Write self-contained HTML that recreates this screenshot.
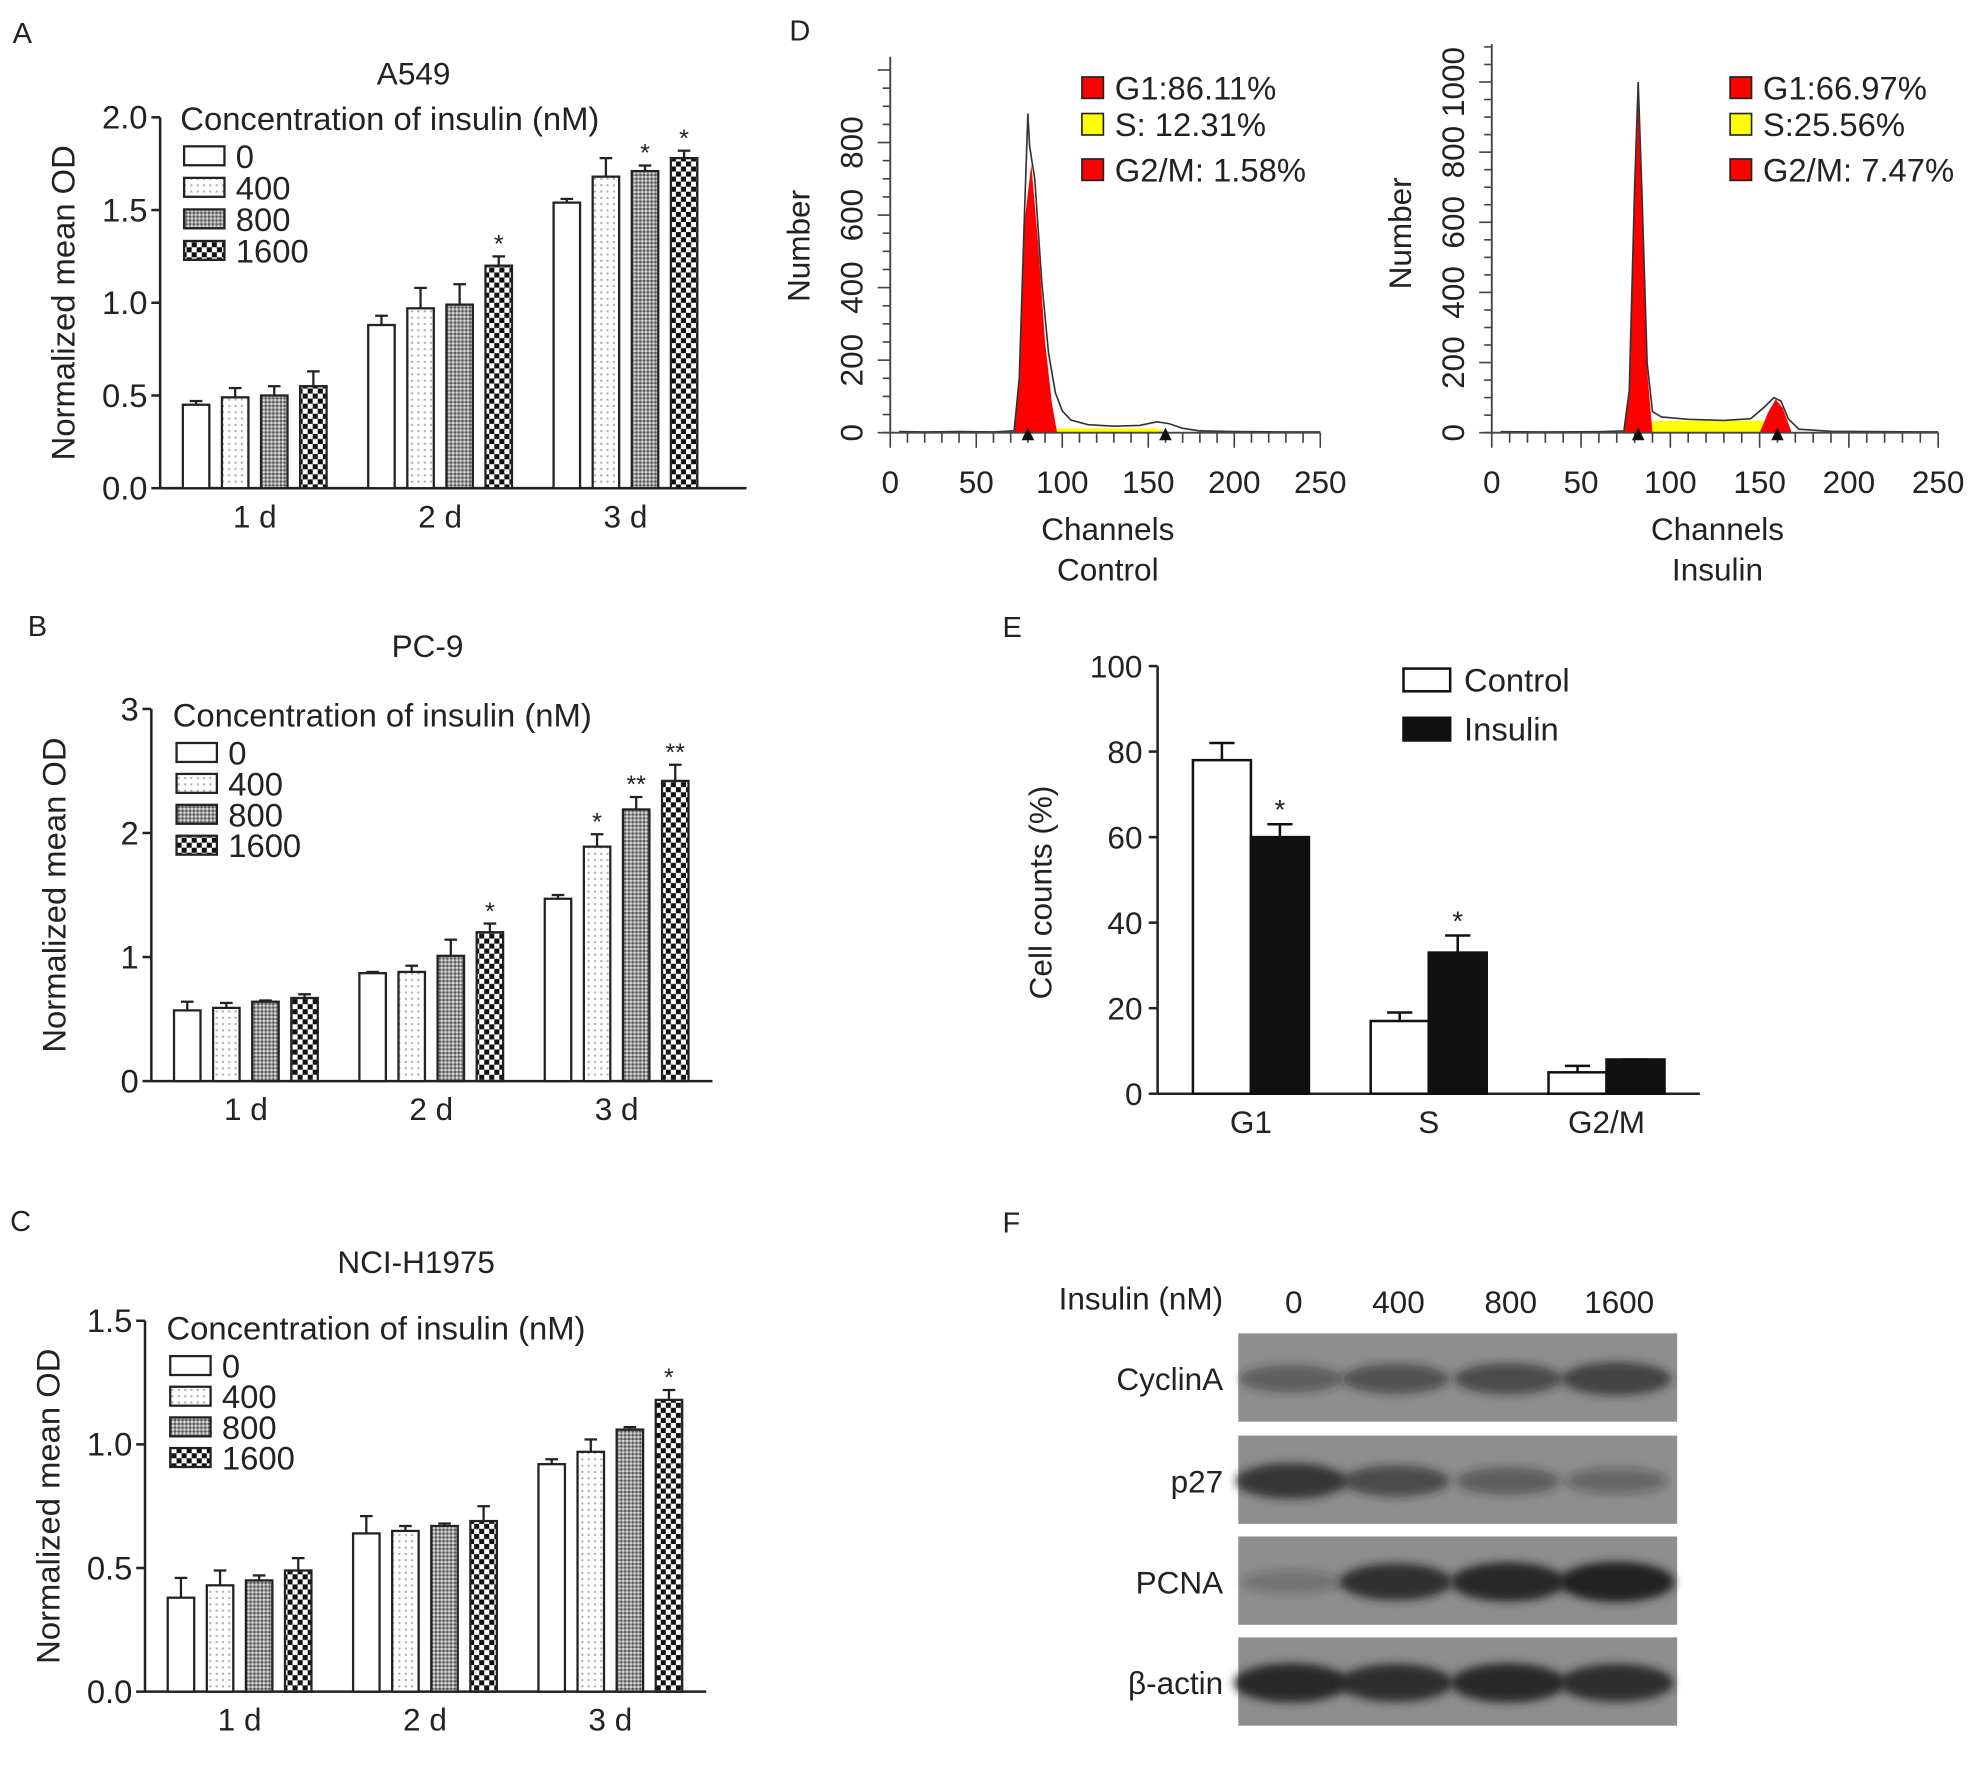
<!DOCTYPE html>
<html><head><meta charset="utf-8"><style>
html,body{margin:0;padding:0;background:#fff}
svg{display:block}
text{font-family:"Liberation Sans",Arial,sans-serif;fill:#222}
</style></head><body>
<svg id="fig" width="1976" height="1785" viewBox="0 0 1567 1415" preserveAspectRatio="none" xmlns="http://www.w3.org/2000/svg">
<defs>
<pattern id="pDot" width="5" height="5" patternUnits="userSpaceOnUse"><rect width="5" height="5" fill="#fff"/><rect x="1" y="1" width="1.6" height="1.6" fill="#aaa"/></pattern>
<pattern id="pGray" width="3" height="3" patternUnits="userSpaceOnUse"><rect width="3" height="3" fill="#999"/><rect width="1.5" height="1.5" fill="#555"/><rect x="1.5" y="1.5" width="1.5" height="1.5" fill="#ddd"/></pattern>
<pattern id="pCheck" width="8" height="8" patternUnits="userSpaceOnUse"><rect width="8" height="8" fill="#fff"/><rect width="4" height="4" fill="#111"/><rect x="4" y="4" width="4" height="4" fill="#111"/></pattern>
<filter id="blur" x="-30%" y="-80%" width="160%" height="260%"><feGaussianBlur stdDeviation="3.5"/></filter>
</defs>
<g id="root"></g>
</svg>
<script>
// ---- Data: panels A-C (normalized mean OD) ----
const dayLabels = ['1 d','2 d','3 d'];
const concLabels = ['0','400','800','1600'];
const a549Values = [[0.45,0.49,0.50,0.55],[0.88,0.97,0.99,1.20],[1.54,1.68,1.71,1.78]];
const a549Errors = [[0.02,0.05,0.05,0.08],[0.05,0.11,0.11,0.05],[0.02,0.10,0.03,0.04]];
const a549Stars = [['','','',''],['','','','*'],['','','*','*']];
const a549Ticks = [0,0.5,1.0,1.5,2.0];
const pc9Values = [[0.57,0.59,0.64,0.67],[0.87,0.88,1.01,1.20],[1.47,1.89,2.19,2.42]];
const pc9Errors = [[0.07,0.04,0.01,0.03],[0.01,0.05,0.13,0.07],[0.03,0.10,0.10,0.13]];
const pc9Stars = [['','','',''],['','','','*'],['','*','**','**']];
const pc9Ticks = [0,1,2,3];
const h1975Values = [[0.38,0.43,0.45,0.49],[0.64,0.65,0.67,0.69],[0.92,0.97,1.06,1.18]];
const h1975Errors = [[0.08,0.06,0.02,0.05],[0.07,0.02,0.01,0.06],[0.02,0.05,0.01,0.04]];
const h1975Stars = [['','','',''],['','','',''],['','','','*']];
const h1975Ticks = [0,0.5,1.0,1.5];
// ---- Data: panel E ----
const phaseLabels = ['G1','S','G2/M'];
const controlValues = [78,17,5];
const controlErrors = [4,2,1.5];
const insulinValues = [60,33,8];
const insulinErrors = [3,4,0];
const eTicks = [0,20,40,60,80,100];
// ---- Data: panel D histograms [channel, count] ----
const controlHist = [[5,3],[20,2],[40,3],[60,2],[72,5],[75,150],[78,600],[80,880],[81,790],[84,700],[88,420],[92,220],[96,110],[100,60],[105,35],[115,22],[130,18],[145,20],[155,30],[162,25],[170,12],[180,5],[200,3],[230,2],[250,2]];
const controlG1 = [[72,0],[75,150],[78,580],[82,740],[86,520],[90,250],[94,80],[97,0]];
const insulinHist = [[5,3],[30,2],[60,3],[74,5],[77,120],[80,700],[82,1000],[84,700],[87,200],[90,60],[95,45],[110,38],[130,35],[145,40],[152,70],[158,100],[162,90],[166,40],[172,10],[190,4],[250,2]];
const insulinG1 = [[74,0],[77,110],[80,650],[82,960],[84,650],[87,180],[90,0]];
const insulinG2 = [[150,0],[155,60],[159,95],[163,70],[168,0]];
const dTicksX = [0,50,100,150,200,250];
// ---- Data: panel F band intensity (0-1) ----
const blotRows = ['CyclinA','p27','PCNA','β-actin'];
const bandIntensity = [[0.45,0.55,0.6,0.7],[0.8,0.6,0.45,0.35],[0.25,0.85,0.95,1.0],[0.95,0.9,0.95,0.9]];

const NS='http://www.w3.org/2000/svg';
const root=document.getElementById('root');
function mk(tag,attrs,parent,txt){const e=document.createElementNS(NS,tag);for(const k in attrs)e.setAttribute(k,attrs[k]);if(txt!==undefined)e.textContent=txt;(parent||root).appendChild(e);return e;}
function grp(name,parent){const g=mk('g',{},parent);return g;}
function txt(parent,x,y,s,size,anchor,name,extra){const t=mk('text',Object.assign({x:x,y:y,'font-size':size,'text-anchor':anchor||'start'},extra||{}),parent,s);return t;}
const fills=['#fff','url(#pDot)','url(#pGray)','url(#pCheck)'];

function barPanel(o){
  const g=grp(o.name);
  const ymax=o.ticks[o.ticks.length-1];
  const Y=v=>o.y0-(v/ymax)*(o.y0-o.ytop);
  txt(g,o.letter[0],o.letter[1],o.letter[2],23,'start','panel-letter');
  txt(g,o.title[0],o.title[1],o.title[2],25,'middle','chart-title');
  txt(g,0,0,'Normalized mean OD',26,'middle','y-axis-title',{transform:`translate(${o.ax-68},${(o.y0+o.ytop)/2}) rotate(-90)`});
  mk('line',{x1:o.ax,y1:o.ytop,x2:o.ax,y2:o.y0,stroke:'#222','stroke-width':2},g);
  mk('line',{x1:o.ax,y1:o.y0,x2:o.xend,y2:o.y0,stroke:'#222','stroke-width':2},g);
  o.ticks.forEach(t=>{mk('line',{x1:o.ax-7,y1:Y(t),x2:o.ax,y2:Y(t),stroke:'#222','stroke-width':2},g);
    txt(g,o.ax-10,Y(t)+9,o.tickFmt(t),26,'end','y-tick-label');});
  const gw=o.gw, bw=21, step=31;
  o.values.forEach((arr,gi)=>{
    const gx=o.gx0+gi*gw;
    txt(g,gx+1.5*step+bw/2,o.y0+31,dayLabels[gi],25,'middle','x-tick-label');
    arr.forEach((v,bi)=>{
      const x=gx+bi*step, e=o.errors[gi][bi];
      const r=mk('rect',{x:x,y:Y(v),width:bw,height:o.y0-Y(v),fill:fills[bi],stroke:'#222','stroke-width':1.8},g);
      
      
      const cx=x+bw/2;
      mk('line',{x1:cx,y1:Y(v),x2:cx,y2:Y(v+e),stroke:'#222','stroke-width':1.8},g);
      mk('line',{x1:cx-5,y1:Y(v+e),x2:cx+5,y2:Y(v+e),stroke:'#222','stroke-width':1.8},g);
      const s=o.stars[gi][bi];
      if(s) txt(g,cx,Y(v+e)-3,s,20,'middle','significance-star',{fill:'#444'});
    });
  });
  const lg=grp('legend',g);
  txt(lg,o.leg[0],o.leg[1]+2,'Concentration of insulin (nM)',26,'start','legend-title');
  concLabels.forEach((c,i)=>{
    const y=o.leg[1]+15+i*o.leg[2];
    const r=mk('rect',{x:o.leg[0]+3,y:y,width:32,height:15,fill:fills[i],stroke:'#222','stroke-width':1.8},lg);
    
    txt(lg,o.leg[0]+44,y+17,c,26,'start','legend-entry');
  });
}
barPanel({name:'panel-a',letter:[10,34,'A'],title:[328,67,'A549'],ax:127,y0:387,ytop:93,xend:592,gx0:145,gw:147,values:a549Values,errors:a549Errors,stars:a549Stars,ticks:a549Ticks,tickFmt:t=>t.toFixed(1),leg:[143,101,25]});
barPanel({name:'panel-b',letter:[22,504,'B'],title:[339,521,'PC-9'],ax:120,y0:857,ytop:562,xend:565,gx0:138,gw:147,values:pc9Values,errors:pc9Errors,stars:pc9Stars,ticks:pc9Ticks,tickFmt:t=>String(t),leg:[137,574,24.5]});
barPanel({name:'panel-c',letter:[8,976,'C'],title:[330,1009,'NCI-H1975'],ax:115,y0:1341,ytop:1047,xend:560,gx0:133,gw:147,values:h1975Values,errors:h1975Errors,stars:h1975Stars,ticks:h1975Ticks,tickFmt:t=>t.toFixed(1),leg:[132,1060,24.3]});

// ---- Panel D ----
function histPanel(o){
  const g=grp(o.name);
  const X=c=>o.ax+(c/250)*(o.xend-o.ax);
  const Y=v=>o.y0-v*o.ppu;
  const pts=a=>a.map(p=>X(p[0])+','+Y(p[1])).join(' ');
  const sfill=mk('polygon',{points:pts([[o.sRange[0],0]].concat(o.hist.filter(p=>p[0]>=o.sRange[0]&&p[0]<=o.sRange[1]).map(p=>[p[0],Math.min(p[1],o.sCap)])).concat([[o.sRange[1],0]])),fill:'#ffff00'},g);
  
  o.fills.forEach(f=>{mk('polygon',{points:pts(f),fill:'#ff0000'},g);});
  mk('polyline',{points:pts(o.hist),fill:'none',stroke:'#333','stroke-width':1.3},g);
  mk('line',{x1:o.ax,y1:o.ytop,x2:o.ax,y2:o.y0,stroke:'#444','stroke-width':1.5},g);
  mk('line',{x1:o.ax-6,y1:o.y0,x2:o.xend,y2:o.y0,stroke:'#444','stroke-width':1.5},g);
  for(let v=0;v*o.ppu<=o.y0-o.ytop;v+=50){const major=v%200===0;mk('line',{x1:o.ax-(major?10:6),y1:Y(v),x2:o.ax,y2:Y(v),stroke:'#444','stroke-width':1.3},g);}
  o.yticks.forEach(v=>txt(g,0,0,String(v),25,'middle','y-tick-label',{transform:`translate(${o.ax-22},${Y(v)}) rotate(-90)`}));
  for(let c=0;c<=250;c+=10){mk('line',{x1:X(c),y1:o.y0,x2:X(c),y2:o.y0+(c%50===0?12:8),stroke:'#444','stroke-width':1.3},g);}
  dTicksX.forEach(c=>txt(g,X(c),o.y0+48,String(c),25,'middle','x-tick-label'));
  o.markers.forEach(c=>mk('polygon',{points:`${X(c)-5},${o.y0+6} ${X(c)+5},${o.y0+6} ${X(c)},${o.y0-4}`,fill:'#111'},g));
  txt(g,0,0,'Number',25,'middle','y-axis-title',{transform:`translate(${o.ax-64},${o.ytop+150}) rotate(-90)`});
  txt(g,(o.ax+o.xend)/2+2,o.y0+85,'Channels',25,'middle','x-axis-title');
  txt(g,(o.ax+o.xend)/2+2,o.y0+117,o.sub,25,'middle','x-axis-subtitle');
  const lg=grp('legend',g);
  o.legend.forEach((l,i)=>{const r=mk('rect',{x:o.lx,y:l[1]-10,width:17,height:17,fill:l[2],stroke:'#222','stroke-width':1.3},lg);
    
    txt(lg,o.lx+26,l[1]+8,l[0],26,'start','legend-entry');});
}
txt(root,626,32,'D',23,'start','panel-letter');
histPanel({name:'panel-d-control',ax:706,xend:1047,y0:343,ytop:45,ppu:0.2875,hist:controlHist,fills:[controlG1],sRange:[95,160],sCap:12,yticks:[0,200,400,600,800],markers:[80,160],sub:'Control',lx:858,
  legend:[['G1:86.11%',71,'#ff0000'],['S: 12.31%',100,'#ffff00'],['G2/M: 1.58%',136,'#ff0000']]});
histPanel({name:'panel-d-insulin',ax:1183,xend:1537,y0:343,ytop:35,ppu:0.278,hist:insulinHist,fills:[insulinG1,insulinG2],sRange:[88,160],sCap:34,yticks:[0,200,400,600,800,1000],markers:[82,160],sub:'Insulin',lx:1372,
  legend:[['G1:66.97%',71,'#ff0000'],['S:25.56%',100,'#ffff00'],['G2/M: 7.47%',136,'#ff0000']]});

// ---- Panel E ----
(function(){
  const g=grp('panel-e');
  const ax=918,y0=867,ytop=528,xend=1348;
  const Y=v=>y0-(v/100)*(y0-ytop);
  txt(g,795,505,'E',23,'start','panel-letter');
  mk('line',{x1:ax,y1:ytop,x2:ax,y2:y0,stroke:'#222','stroke-width':2},g);
  mk('line',{x1:ax,y1:y0,x2:xend,y2:y0,stroke:'#222','stroke-width':2},g);
  eTicks.forEach(t=>{mk('line',{x1:ax-7,y1:Y(t),x2:ax,y2:Y(t),stroke:'#222','stroke-width':2},g);txt(g,ax-12,Y(t)+9,String(t),25,'end','y-tick-label');});
  txt(g,0,0,'Cell counts (%)',25,'middle','y-axis-title',{transform:`translate(${ax-84},${(y0+ytop)/2+10}) rotate(-90)`});
  const bw=46,gw=141,gx0=946;
  phaseLabels.forEach((p,i)=>{
    const gx=gx0+i*gw;
    txt(g,gx+bw,y0+31,p,25,'middle','x-tick-label');
    [[controlValues,controlErrors,'#fff','control'],[insulinValues,insulinErrors,'#111','insulin']].forEach((s,j)=>{
      const v=s[0][i],e=s[1][i],x=gx+j*bw;
      const r=mk('rect',{x:x,y:Y(v),width:bw,height:y0-Y(v),fill:s[2],stroke:'#111','stroke-width':2},g);
      
      const cx=x+bw/2;
      mk('line',{x1:cx,y1:Y(v),x2:cx,y2:Y(v+e),stroke:'#111','stroke-width':2},g);
      mk('line',{x1:cx-10,y1:Y(v+e),x2:cx+10,y2:Y(v+e),stroke:'#111','stroke-width':2},g);
      if(j===1&&i<2) txt(g,cx,Y(v+e)-4,'*',22,'middle','significance-star',{fill:'#444'});
    });
  });
  const lg=grp('legend',g);
  [['Control','#fff',530],['Insulin','#111',569]].forEach(l=>{
    const r=mk('rect',{x:1113,y:l[2],width:37,height:18,fill:l[1],stroke:'#111','stroke-width':2},lg);
    
    txt(lg,1161,l[2]+18,l[0],26,'start','legend-entry');});
})();

// ---- Panel F ----
(function(){
  const g=grp('panel-f');
  txt(g,795,977,'F',23,'start','panel-letter');
  txt(g,970,1038,'Insulin (nM)',25,'end','blot-header');
  const lanes=[1026,1109,1198,1284];
  concLabels.forEach((c,i)=>txt(g,lanes[i],1041,c,25,'middle','lane-label'));
  const rowsY=[1057,1138,1218,1298];
  blotRows.forEach((r,ri)=>{
    const y=rowsY[ri];
    const rg=grp('blot-'+r.replace('β','beta'),g);
    mk('rect',{x:982,y:y,width:348,height:70,fill:'#8e8e8e'},rg);
    bandIntensity[ri].forEach((v,li)=>{
      const e=mk('ellipse',{cx:lanes[li]-2,cy:y+36,rx:38+v*8,ry:7+v*9,fill:'#222','fill-opacity':Math.min(1,v),filter:'url(#blur)'},rg);
      
    });
    txt(g,970,y+45,r,25,'end','row-label');
  });
})();
</script>
</body></html>
